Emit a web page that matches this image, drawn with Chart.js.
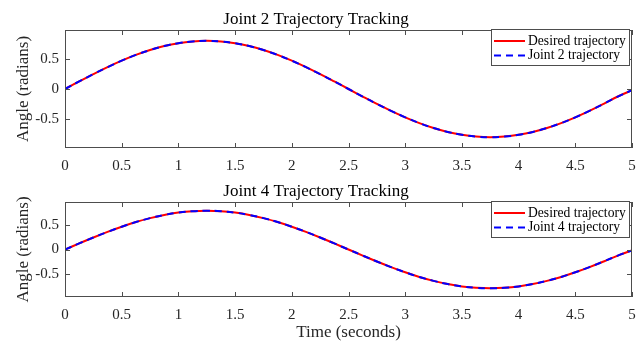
<!DOCTYPE html>
<html>
<head>
<meta charset="utf-8">
<script src="https://cdn.jsdelivr.net/npm/chart.js@4.4.1/dist/chart.umd.min.js"></script>
<style>
  body { margin: 0; background: #fff; }
  .plot { position: absolute; left: 0; width: 636px; height: 172px; }
</style>
</head>
<body>
<div class="plot" style="top:0"><canvas id="joint2" width="636" height="172"></canvas></div>
<div class="plot" style="top:172px"><canvas id="joint4" width="636" height="172"></canvas></div>
<script>
// time samples (s)
const time = [0, 0.125, 0.25, 0.375, 0.5, 0.625, 0.75, 0.875, 1, 1.125, 1.25,
  1.375, 1.5, 1.625, 1.75, 1.875, 2, 2.125, 2.25, 2.375, 2.5,
  2.625, 2.75, 2.875, 3, 3.125, 3.25, 3.375, 3.5, 3.625, 3.75,
  3.875, 4, 4.125, 4.25, 4.375, 4.5, 4.625, 4.75, 4.875, 5];

// angles (radians)
const desired2 = [0, 0.125, 0.247, 0.363, 0.470, 0.566, 0.647, 0.713, 0.761, 0.790, 0.800,
  0.790, 0.761, 0.713, 0.647, 0.566, 0.470, 0.363, 0.247, 0.125, 0,
  -0.125, -0.247, -0.363, -0.470, -0.566, -0.647, -0.713, -0.761, -0.790, -0.800,
  -0.790, -0.761, -0.713, -0.647, -0.566, -0.470, -0.363, -0.247, -0.125, -0.02];
const joint2 = [0, 0.125, 0.247, 0.363, 0.470, 0.566, 0.647, 0.713, 0.761, 0.790, 0.800,
  0.790, 0.761, 0.713, 0.647, 0.566, 0.470, 0.363, 0.247, 0.125, 0,
  -0.125, -0.247, -0.363, -0.470, -0.566, -0.647, -0.713, -0.761, -0.790, -0.800,
  -0.790, -0.761, -0.713, -0.647, -0.566, -0.470, -0.363, -0.247, -0.125, -0.02];
const desired4 = [0, 0.125, 0.247, 0.363, 0.470, 0.566, 0.647, 0.713, 0.761, 0.790, 0.800,
  0.790, 0.761, 0.713, 0.647, 0.566, 0.470, 0.363, 0.247, 0.125, 0,
  -0.125, -0.247, -0.363, -0.470, -0.566, -0.647, -0.713, -0.761, -0.790, -0.800,
  -0.790, -0.761, -0.713, -0.647, -0.566, -0.470, -0.363, -0.247, -0.125, -0.02];
const joint4 = [0, 0.125, 0.247, 0.363, 0.470, 0.566, 0.647, 0.713, 0.761, 0.790, 0.800,
  0.790, 0.761, 0.713, 0.647, 0.566, 0.470, 0.363, 0.247, 0.125, 0,
  -0.125, -0.247, -0.363, -0.470, -0.566, -0.647, -0.713, -0.761, -0.790, -0.800,
  -0.790, -0.761, -0.713, -0.647, -0.566, -0.470, -0.363, -0.247, -0.125, -0.02];

const yTicks = [-0.5, 0, 0.5];
const axisColor = "#4d4d4d";
const textColor = "#262626";
const serif = "'Liberation Serif', 'Times New Roman', serif";

// MATLAB-like box, inward ticks and legend inside the axes
const boxPlugin = {
  id: "matlabBox",
  afterDraw(chart) {
    const { ctx, chartArea: a, scales } = chart;
    const tl = 5;
    ctx.save();
    ctx.strokeStyle = axisColor;
    ctx.lineWidth = 1;
    ctx.strokeRect(a.left + 0.5, a.top + 0.5, a.right - a.left - 1, a.bottom - a.top - 1);
    ctx.beginPath();
    scales.x.ticks.forEach(t => {
      const px = Math.round(scales.x.getPixelForValue(t.value)) + 0.5;
      ctx.moveTo(px, a.bottom); ctx.lineTo(px, a.bottom - tl);
      ctx.moveTo(px, a.top); ctx.lineTo(px, a.top + tl);
    });
    scales.y.ticks.forEach(t => {
      const py = Math.round(scales.y.getPixelForValue(t.value)) + 0.5;
      ctx.moveTo(a.left, py); ctx.lineTo(a.left + tl, py);
      ctx.moveTo(a.right, py); ctx.lineTo(a.right - tl, py);
    });
    ctx.stroke();

    // legend
    const w = 138, h = 36;
    const lx = a.right - 3 - w, ly = a.top - 1;
    ctx.fillStyle = "#fff";
    ctx.fillRect(lx, ly, w, h);
    ctx.strokeRect(lx + 0.5, ly + 0.5, w, h);
    ctx.font = "13.6px " + serif;
    ctx.textBaseline = "middle";
    chart.data.datasets.forEach((ds, i) => {
      const cy = ly + 12 + i * 14.5;
      ctx.strokeStyle = ds.borderColor;
      ctx.lineWidth = 2;
      ctx.setLineDash(ds.borderDash || []);
      ctx.beginPath();
      ctx.moveTo(lx + 3, cy); ctx.lineTo(lx + 34, cy);
      ctx.stroke();
      ctx.setLineDash([]);
      ctx.fillStyle = "#000";
      ctx.fillText(ds.label, lx + 37, cy);
    });
    ctx.restore();
  }
};

function makeChart(id, title, jointLabel, desired, joint, withXTitle) {
  const pts = arr => time.map((t, i) => ({ x: t, y: arr[i] }));
  return new Chart(document.getElementById(id), {
    type: "line",
    data: {
      datasets: [
        { label: "Desired trajectory", data: pts(desired), borderColor: "#ff0000",
          borderWidth: 2, pointRadius: 0, tension: 0.4, fill: false, order: 1 },
        { label: jointLabel, data: pts(joint), borderColor: "#0000ff",
          borderWidth: 2, borderDash: [7, 5], pointRadius: 0, tension: 0.4, fill: false, order: 0 }
      ]
    },
    options: {
      responsive: false,
      animation: false,
      devicePixelRatio: 1,
      layout: { padding: { left: 0, right: 4, top: 0, bottom: 0 } },
      plugins: {
        legend: { display: false },
        tooltip: { enabled: false },
        title: {
          display: true, text: title, color: "#000",
          font: { family: serif, size: 17, weight: "normal", lineHeight: 1 },
          padding: { top: 11, bottom: 2 }
        }
      },
      scales: {
        x: {
          type: "linear", min: 0, max: 5,
          grid: { display: false, drawTicks: false },
          border: { display: false },
          ticks: { stepSize: 0.5, padding: 9, color: textColor, maxRotation: 0,
            font: { family: serif, size: 15 },
            callback: v => String(+v.toFixed(1)) },
          title: { display: withXTitle, text: "Time (seconds)", color: textColor,
            font: { family: serif, size: 17, lineHeight: 1 }, padding: { top: 0, bottom: 2.5 } },
          afterFit(s) {
            s.height = withXTitle ? 47 : 24;
            s.paddingLeft = 0; s.paddingRight = 0;
          }
        },
        y: {
          min: -0.98, max: 0.98,
          grid: { display: false, drawTicks: false },
          border: { display: false },
          afterBuildTicks(s) { s.ticks = yTicks.map(v => ({ value: v })); },
          ticks: { padding: 6, color: textColor, font: { family: serif, size: 15 } },
          title: { display: true, text: "Angle (radians)", color: textColor,
            font: { family: serif, size: 17, lineHeight: 1 }, padding: { top: 15, bottom: 0 } },
          afterFit(s) {
            s.width = 65;
            s.paddingTop = 0; s.paddingBottom = 0;
          }
        }
      }
    },
    plugins: [boxPlugin]
  });
}

makeChart("joint2", "Joint 2 Trajectory Tracking", "Joint 2 trajectory", desired2, joint2, false);
makeChart("joint4", "Joint 4 Trajectory Tracking", "Joint 4 trajectory", desired4, joint4, true);
</script>
</body>
</html>
